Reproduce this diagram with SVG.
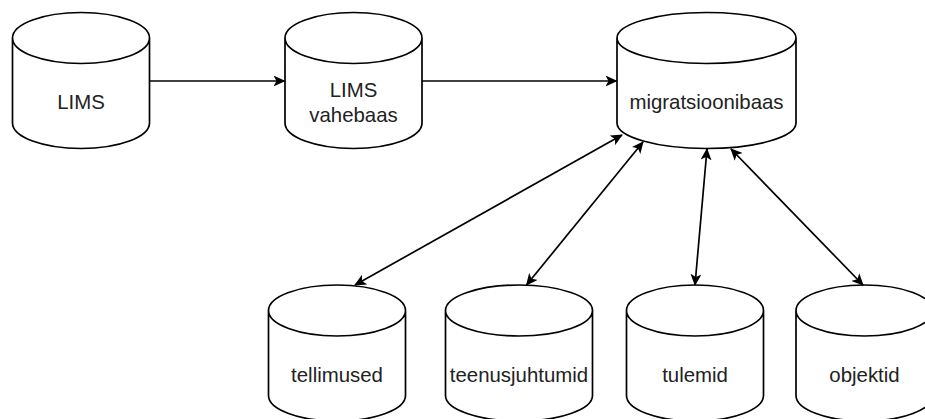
<svg xmlns="http://www.w3.org/2000/svg" width="925" height="419" viewBox="0 0 925 419">
<style>
.cyl{fill:#fff;stroke:#000;stroke-width:1.7}
.lbl{font-family:"Liberation Sans",Arial,sans-serif;font-size:20.4px;fill:#222;text-anchor:middle}
.edge{fill:none;stroke:#000;stroke-width:1.7}
</style>
<defs>
<marker id="ah" viewBox="0 0 12 11" refX="11" refY="5.5" markerWidth="12" markerHeight="11" markerUnits="userSpaceOnUse" orient="auto-start-reverse">
<path d="M0,0 L12,5.5 L0,11 L3,5.5 Z" fill="#000"/>
</marker>
</defs>
<rect width="925" height="419" fill="#fff"/>
<g id="LIMS">
<path class="cyl" d="M12.5,38 A68.5,25.5 0 0 1 149.5,38 V123 A68.5,25.5 0 0 1 12.5,123 Z M12.5,38 A68.5,25.5 0 0 0 149.5,38"/>
<text class="lbl" x="81" y="109">LIMS</text>
</g>
<g id="LIMS-vahebaas">
<path class="cyl" d="M285,38 A68.5,25.5 0 0 1 422,38 V123 A68.5,25.5 0 0 1 285,123 Z M285,38 A68.5,25.5 0 0 0 422,38"/>
<text class="lbl" x="353.5" y="97">LIMS</text>
<text class="lbl" x="353.5" y="122">vahebaas</text>
</g>
<g id="migratsioonibaas">
<path class="cyl" d="M617,38 A89.5,25.5 0 0 1 796,38 V123 A89.5,25.5 0 0 1 617,123 Z M617,38 A89.5,25.5 0 0 0 796,38"/>
<text class="lbl" x="706.5" y="109">migratsioonibaas</text>
</g>
<g id="tellimused">
<path class="cyl" d="M268.5,310.5 A68.5,25.5 0 0 1 405.5,310.5 V395.5 A68.5,25.5 0 0 1 268.5,395.5 Z M268.5,310.5 A68.5,25.5 0 0 0 405.5,310.5"/>
<text class="lbl" x="337" y="382">tellimused</text>
</g>
<g id="teenusjuhtumid">
<path class="cyl" d="M445.5,310.5 A73.5,25.5 0 0 1 592.5,310.5 V395.5 A73.5,25.5 0 0 1 445.5,395.5 Z M445.5,310.5 A73.5,25.5 0 0 0 592.5,310.5"/>
<text class="lbl" x="519" y="382">teenusjuhtumid</text>
</g>
<g id="tulemid">
<path class="cyl" d="M626.5,310.5 A68.5,25.5 0 0 1 763.5,310.5 V395.5 A68.5,25.5 0 0 1 626.5,395.5 Z M626.5,310.5 A68.5,25.5 0 0 0 763.5,310.5"/>
<text class="lbl" x="695" y="382">tulemid</text>
</g>
<g id="objektid">
<path class="cyl" d="M796,310.5 A68.5,25.5 0 0 1 933,310.5 V395.5 A68.5,25.5 0 0 1 796,395.5 Z M796,310.5 A68.5,25.5 0 0 0 933,310.5"/>
<text class="lbl" x="864.5" y="382">objektid</text>
</g>
<g id="connectors">
<path class="edge" d="M149.5,81 H284.5" marker-end="url(#ah)"/>
<path class="edge" d="M422,81 H616.5" marker-end="url(#ah)"/>
<path class="edge" d="M355,285 L622,135" marker-start="url(#ah)" marker-end="url(#ah)"/>
<path class="edge" d="M526.5,285 L643,142" marker-start="url(#ah)" marker-end="url(#ah)"/>
<path class="edge" d="M695,285 L707,149" marker-start="url(#ah)" marker-end="url(#ah)"/>
<path class="edge" d="M863,285 L731,149" marker-start="url(#ah)" marker-end="url(#ah)"/>
</g>
</svg>
